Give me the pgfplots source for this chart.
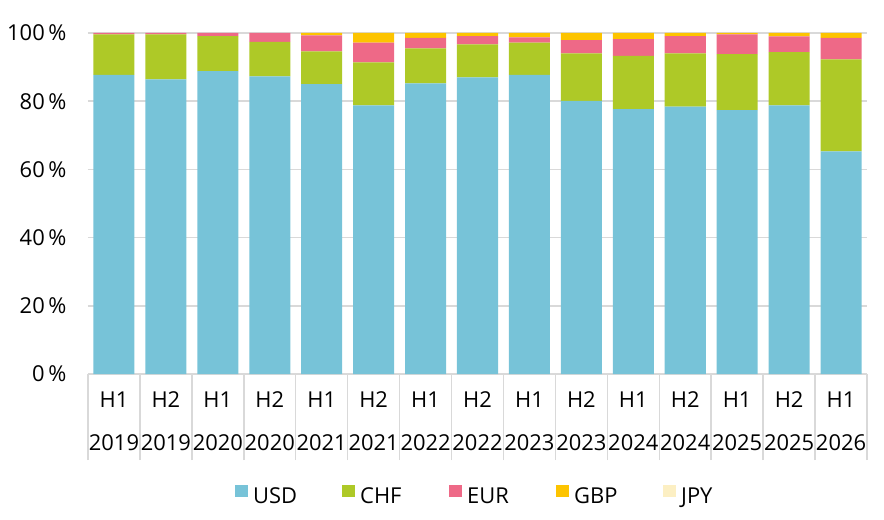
\documentclass[border=0pt]{standalone}
\usepackage{pgfplots}
\pgfplotsset{compat=1.18}
\usepackage{fontspec}
\setmainfont{Open Sans}
\definecolor{cusd}{HTML}{77C3D8}
\definecolor{cchf}{HTML}{AEC927}
\definecolor{ceur}{HTML}{EE6987}
\definecolor{cgbp}{HTML}{FDC400}
\definecolor{cjpy}{HTML}{FCEFC3}
\definecolor{gridc}{HTML}{D9D9D9}
\begin{document}
\begin{tikzpicture}
\begin{axis}[
  name=ax,
  scale only axis, width=779bp, height=341bp,
  ybar stacked, bar width=0.79,
  xmin=-0.5, xmax=14.5, ymin=0, ymax=100,
  xtick={0,...,14},
  xticklabels={{H1\\2019},{H2\\2019},{H1\\2020},{H2\\2020},{H1\\2021},{H2\\2021},{H1\\2022},{H2\\2022},{H1\\2023},{H2\\2023},{H1\\2024},{H2\\2024},{H1\\2025},{H2\\2025},{H1\\2026}},
  minor xtick={-0.5,0.5,...,14.5},
  major tick length=0pt, minor tick length=86bp,
  tick align=outside,
  xtick pos=bottom, ytick pos=left,
  minor tick style={draw=gridc, line width=1.5bp},
  ytick={0,20,...,100},
  yticklabel={\pgfmathprintnumber{\tick}\,\%},
  /pgf/number format/assume math mode=true,
  ymajorgrids, grid style={draw=gridc, line width=1.5bp},
  axis line style={draw=none},
  tick label style={font=\fontsize{22}{43}\selectfont},
  xticklabel style={align=center, yshift=-14bp},
  yticklabel style={xshift=-18bp},
  legend columns=5,
  legend style={draw=none, fill=none, inner sep=0pt, at={(0.1887,-0.355)}, anchor=west,
    font=\fontsize{22}{26}\selectfont,
    /tikz/every odd column/.append style={column sep=5bp},
    nodes={inner sep=0pt}},
  legend image code/.code={\fill[#1] (0bp,0bp) rectangle (13bp,12bp);},
  clip=false,
]
\addplot[fill=cusd, draw=none] coordinates {(0,87.7) (1,86.4) (2,88.8) (3,87.3) (4,85.0) (5,78.8) (6,85.2) (7,87.0) (8,87.7) (9,80.1) (10,77.7) (11,78.4) (12,77.4) (13,78.8) (14,65.3)};
\addplot[fill=cchf, draw=none] coordinates {(0,11.9) (1,13.2) (2,10.3) (3,10.1) (4,9.6) (5,12.6) (6,10.3) (7,9.7) (8,9.5) (9,13.9) (10,15.6) (11,15.6) (12,16.4) (13,15.6) (14,27.0)};
\addplot[fill=ceur, draw=none] coordinates {(0,0.4) (1,0.4) (2,0.9) (3,2.6) (4,4.7) (5,5.8) (6,3.1) (7,2.4) (8,1.5) (9,3.9) (10,4.9) (11,5.1) (12,5.8) (13,4.6) (14,6.3)};
\addplot[fill=cgbp, draw=none] coordinates {(0,0) (1,0) (2,0) (3,0) (4,0.7) (5,2.8) (6,1.4) (7,0.9) (8,1.3) (9,2.1) (10,1.8) (11,0.9) (12,0.4) (13,1.0) (14,1.4)};
\addplot[fill=cjpy, draw=none] coordinates {(0,0) (1,0) (2,0) (3,0) (4,0) (5,0) (6,0) (7,0) (8,0) (9,0) (10,0) (11,0) (12,0) (13,0) (14,0)};
\legend{\makebox[89bp][l]{USD},\makebox[89bp][l]{CHF},\makebox[89bp][l]{EUR},\makebox[89bp][l]{GBP},\makebox[89bp][l]{JPY}}
\end{axis}
\pgfresetboundingbox
\path[use as bounding box] ([shift={(-88bp,-146bp)}]ax.south west) rectangle ([shift={(17bp,33bp)}]ax.north east);
\end{tikzpicture}
\end{document}
